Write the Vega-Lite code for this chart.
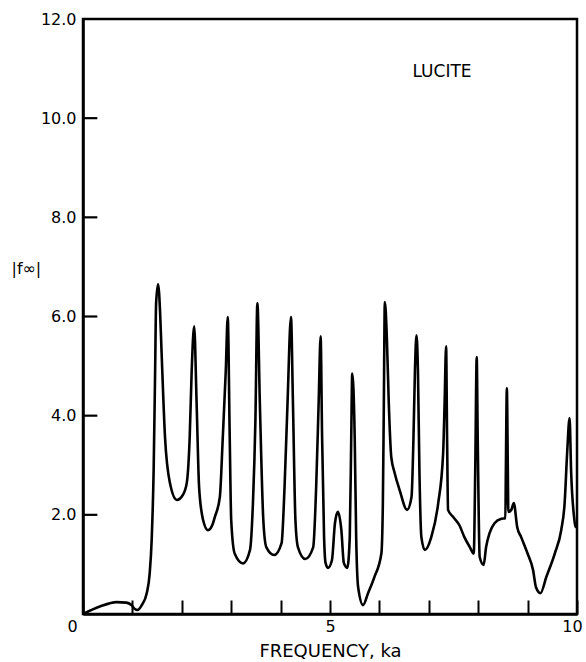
{
  "$schema": "https://vega.github.io/schema/vega-lite/v6.json",
  "width": 494,
  "height": 595,
  "autosize": {"type": "none"},
  "padding": {"left": 83, "top": 19, "right": 9, "bottom": 48},
  "background": "white",
  "config": {
    "view": {"stroke": "black", "strokeWidth": 2.5},
    "font": "DejaVu Sans",
    "axis": {
      "grid": false,
      "zindex": 1,
      "domainColor": "black",
      "domainWidth": 2.5,
      "tickColor": "black",
      "tickWidth": 2,
      "tickSize": -14,
      "labelColor": "black",
      "labelFont": "DejaVu Sans",
      "labelFontSize": 16,
      "titleColor": "black",
      "titleFont": "DejaVu Sans",
      "titleFontWeight": "normal"
    }
  },
  "datasets": {
    "curve": [
      {"ka": 0.0, "f": 0.0}, {"ka": 0.34, "f": 0.15}, {"ka": 0.68, "f": 0.24}, {"ka": 0.88, "f": 0.23},
      {"ka": 0.98, "f": 0.18}, {"ka": 1.05, "f": 0.1}, {"ka": 1.1, "f": 0.08}, {"ka": 1.19, "f": 0.18},
      {"ka": 1.29, "f": 0.42}, {"ka": 1.35, "f": 0.82}, {"ka": 1.39, "f": 1.49}, {"ka": 1.43, "f": 2.9},
      {"ka": 1.46, "f": 4.9}, {"ka": 1.48, "f": 6.27}, {"ka": 1.52, "f": 6.65}, {"ka": 1.56, "f": 6.1},
      {"ka": 1.59, "f": 5.3}, {"ka": 1.66, "f": 3.57}, {"ka": 1.76, "f": 2.64}, {"ka": 1.9, "f": 2.3},
      {"ka": 2.02, "f": 2.4}, {"ka": 2.1, "f": 2.64}, {"ka": 2.16, "f": 3.57}, {"ka": 2.2, "f": 4.9},
      {"ka": 2.25, "f": 5.8}, {"ka": 2.3, "f": 4.25}, {"ka": 2.35, "f": 2.56}, {"ka": 2.43, "f": 1.9},
      {"ka": 2.53, "f": 1.69}, {"ka": 2.62, "f": 1.8}, {"ka": 2.67, "f": 1.96}, {"ka": 2.77, "f": 2.36},
      {"ka": 2.83, "f": 3.57}, {"ka": 2.89, "f": 4.9}, {"ka": 2.93, "f": 5.99}, {"ka": 2.97, "f": 3.57},
      {"ka": 3.0, "f": 1.9}, {"ka": 3.07, "f": 1.22}, {"ka": 3.24, "f": 1.02}, {"ka": 3.38, "f": 1.29},
      {"ka": 3.44, "f": 2.24}, {"ka": 3.49, "f": 3.9}, {"ka": 3.53, "f": 6.27}, {"ka": 3.58, "f": 4.25},
      {"ka": 3.65, "f": 1.9}, {"ka": 3.71, "f": 1.35}, {"ka": 3.87, "f": 1.19}, {"ka": 4.02, "f": 1.43},
      {"ka": 4.08, "f": 2.56}, {"ka": 4.14, "f": 4.25}, {"ka": 4.21, "f": 5.99}, {"ka": 4.25, "f": 4.25},
      {"ka": 4.3, "f": 1.9}, {"ka": 4.35, "f": 1.35}, {"ka": 4.5, "f": 1.11}, {"ka": 4.66, "f": 1.35},
      {"ka": 4.72, "f": 2.56}, {"ka": 4.77, "f": 4.25}, {"ka": 4.81, "f": 5.6}, {"ka": 4.84, "f": 3.57},
      {"ka": 4.88, "f": 1.55}, {"ka": 4.91, "f": 1.03}, {"ka": 4.96, "f": 0.93}, {"ka": 5.04, "f": 1.09},
      {"ka": 5.1, "f": 1.83}, {"ka": 5.16, "f": 2.06}, {"ka": 5.23, "f": 1.69}, {"ka": 5.28, "f": 1.03},
      {"ka": 5.35, "f": 0.93}, {"ka": 5.4, "f": 1.55}, {"ka": 5.43, "f": 3.57}, {"ka": 5.45, "f": 4.85},
      {"ka": 5.5, "f": 3.57}, {"ka": 5.53, "f": 1.55}, {"ka": 5.57, "f": 0.54}, {"ka": 5.67, "f": 0.18},
      {"ka": 5.77, "f": 0.42}, {"ka": 5.9, "f": 0.75}, {"ka": 6.04, "f": 1.22}, {"ka": 6.07, "f": 2.23},
      {"ka": 6.09, "f": 4.25}, {"ka": 6.11, "f": 6.29}, {"ka": 6.15, "f": 5.6}, {"ka": 6.19, "f": 4.25},
      {"ka": 6.24, "f": 3.17}, {"ka": 6.31, "f": 2.84}, {"ka": 6.41, "f": 2.5}, {"ka": 6.56, "f": 2.1},
      {"ka": 6.65, "f": 2.36}, {"ka": 6.69, "f": 3.57}, {"ka": 6.72, "f": 4.92}, {"ka": 6.75, "f": 5.62},
      {"ka": 6.78, "f": 4.92}, {"ka": 6.81, "f": 2.9}, {"ka": 6.85, "f": 1.55}, {"ka": 6.92, "f": 1.29},
      {"ka": 7.05, "f": 1.55}, {"ka": 7.19, "f": 2.23}, {"ka": 7.29, "f": 3.24}, {"ka": 7.32, "f": 4.25},
      {"ka": 7.35, "f": 5.4}, {"ka": 7.37, "f": 3.57}, {"ka": 7.39, "f": 2.1}, {"ka": 7.49, "f": 1.96},
      {"ka": 7.62, "f": 1.79}, {"ka": 7.72, "f": 1.55}, {"ka": 7.83, "f": 1.35}, {"ka": 7.91, "f": 1.22},
      {"ka": 7.94, "f": 2.9}, {"ka": 7.97, "f": 5.18}, {"ka": 7.99, "f": 3.57}, {"ka": 8.03, "f": 1.15},
      {"ka": 8.11, "f": 0.99}, {"ka": 8.16, "f": 1.35}, {"ka": 8.23, "f": 1.63}, {"ka": 8.33, "f": 1.83},
      {"ka": 8.47, "f": 1.92}, {"ka": 8.55, "f": 1.93}, {"ka": 8.56, "f": 2.9}, {"ka": 8.58, "f": 4.55},
      {"ka": 8.6, "f": 2.9}, {"ka": 8.61, "f": 2.06}, {"ka": 8.67, "f": 2.1}, {"ka": 8.72, "f": 2.24},
      {"ka": 8.79, "f": 1.75}, {"ka": 8.87, "f": 1.55}, {"ka": 9.0, "f": 1.22}, {"ka": 9.11, "f": 0.89},
      {"ka": 9.17, "f": 0.54}, {"ka": 9.26, "f": 0.42}, {"ka": 9.38, "f": 0.75}, {"ka": 9.55, "f": 1.22},
      {"ka": 9.68, "f": 1.69}, {"ka": 9.75, "f": 2.24}, {"ka": 9.8, "f": 3.24}, {"ka": 9.85, "f": 3.95},
      {"ka": 9.88, "f": 2.9}, {"ka": 9.94, "f": 1.96}, {"ka": 9.97, "f": 1.76}, {"ka": 10.0, "f": 1.75}
    ],
    "yticks": [
      {"f": 2}, {"f": 4}, {"f": 6}, {"f": 8}, {"f": 10}
    ],
    "notes": [
      {"ka": 6.67, "f": 10.93, "text": "LUCITE"}
    ]
  },
  "layer": [
    {
      "data": {"name": "curve"},
      "mark": {"type": "line", "color": "black", "strokeWidth": 2.6, "interpolate": "monotone"},
      "encoding": {
        "x": {
          "field": "ka",
          "type": "quantitative",
          "scale": {"domain": [0, 10], "nice": false, "zero": false},
          "axis": {
            "title": "FREQUENCY,  ka",
            "titleFontSize": 18,
            "titlePadding": 8,
            "values": [0, 1, 2, 3, 4, 5, 6, 7, 8, 9, 10],
            "format": "d",
            "labelExpr": "datum.value % 5 === 0 ? datum.label : ''",
            "labelFlush": false,
            "labelPadding": 18,
            "labelOffset": {
              "condition": [
                {"test": "datum.value === 0", "value": -11},
                {"test": "datum.value === 10", "value": -5}
              ],
              "value": 0
            }
          }
        },
        "y": {
          "field": "f",
          "type": "quantitative",
          "scale": {"domain": [0, 12], "nice": false},
          "axis": {
            "title": "|f∞|",
            "titleAngle": 0,
            "titleFontSize": 16,
            "titleAlign": "left",
            "titleBaseline": "middle",
            "titleX": -72,
            "titleY": 249,
            "values": [0, 2, 4, 6, 8, 10, 12],
            "format": ".1f",
            "labelExpr": "datum.value === 0 ? '' : datum.label",
            "labelFlush": false,
            "ticks": false,
            "labelPadding": 7
          }
        }
      }
    },
    {
      "data": {"name": "yticks"},
      "mark": {"type": "rule", "color": "black", "strokeWidth": 2.2},
      "encoding": {
        "y": {"field": "f", "type": "quantitative"},
        "x": {"datum": 0},
        "x2": {"datum": 0.29}
      }
    },
    {
      "data": {"name": "notes"},
      "mark": {"type": "text", "align": "left", "baseline": "middle", "fontSize": 17, "font": "DejaVu Sans", "color": "black"},
      "encoding": {
        "x": {"field": "ka", "type": "quantitative"},
        "y": {"field": "f", "type": "quantitative"},
        "text": {"field": "text"}
      }
    }
  ]
}
